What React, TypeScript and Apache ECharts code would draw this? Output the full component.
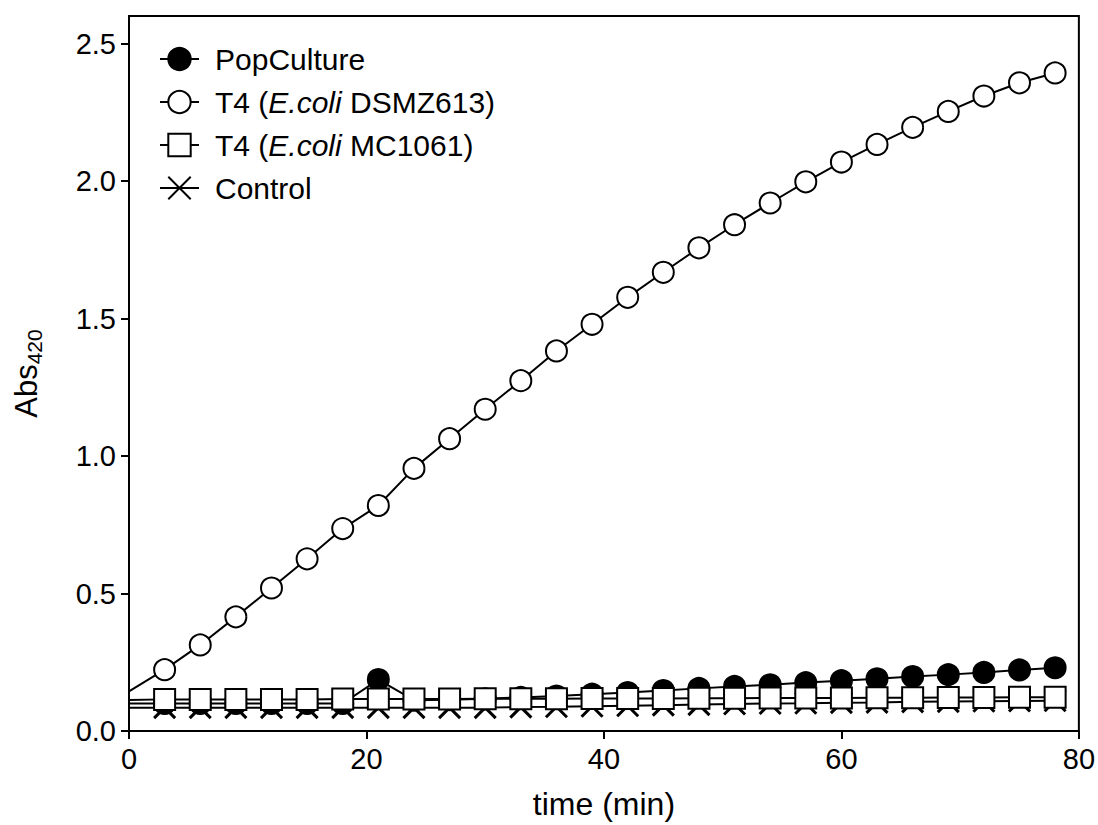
import React, { useEffect, useRef } from "react";
import * as echarts from "echarts";

const times = [0, 3, 6, 9, 12, 15, 18, 21, 24, 27, 30, 33, 36, 39, 42, 45, 48, 51, 54, 57, 60, 63, 66, 69, 72, 75, 78];
const popCulture = [0.1, 0.1, 0.1, 0.1, 0.1, 0.1, 0.1, 0.187, 0.112, 0.114, 0.117, 0.122, 0.127, 0.134, 0.14, 0.147, 0.155, 0.162, 0.168, 0.176, 0.183, 0.19, 0.198, 0.205, 0.213, 0.222, 0.23];
const t4Dsmz613 = [0.144, 0.223, 0.313, 0.415, 0.52, 0.626, 0.736, 0.82, 0.955, 1.063, 1.17, 1.274, 1.382, 1.479, 1.577, 1.668, 1.757, 1.841, 1.92, 1.997, 2.069, 2.133, 2.195, 2.253, 2.309, 2.357, 2.393];
const t4Mc1061 = [0.113, 0.115, 0.115, 0.115, 0.115, 0.115, 0.116, 0.116, 0.116, 0.116, 0.117, 0.117, 0.117, 0.118, 0.118, 0.118, 0.119, 0.119, 0.12, 0.12, 0.12, 0.121, 0.121, 0.122, 0.122, 0.123, 0.123];
const control = [0.085, 0.085, 0.085, 0.085, 0.085, 0.085, 0.085, 0.085, 0.085, 0.085, 0.085, 0.087, 0.088, 0.09, 0.092, 0.094, 0.096, 0.098, 0.1, 0.101, 0.103, 0.104, 0.106, 0.107, 0.108, 0.109, 0.11];

const xTicks = [0, 20, 40, 60, 80];
const yTicks = [0, 0.5, 1.0, 1.5, 2.0, 2.5];

const seriesNames = ["PopCulture", "T4 (E.coli DSMZ613)", "T4 (E.coli MC1061)", "Control"];

const FONT = "'Liberation Sans', Arial, Helvetica, sans-serif";

function toData(values: number[]) {
  return times.map((t, i) =>
    t === 0 ? { value: [t, values[i]], symbol: "none" } : [t, values[i]]
  );
}

export default function App() {
  const ref = useRef<HTMLDivElement>(null);
  useEffect(() => {
    if (!ref.current) return;
    const chart = echarts.init(ref.current, undefined, { renderer: "svg" });
    const lineStyle = { color: "#000", width: 2 };
    const common = {
      type: "line" as const,
      symbolSize: 21,
      lineStyle,
      showAllSymbol: true,
      clip: true,
    };
    chart.setOption({
      animation: false,
      backgroundColor: "#fff",
      grid: {
        left: 129,
        right: 19,
        top: 16,
        bottom: 88,
        show: true,
        borderColor: "#000",
        borderWidth: 2,
        backgroundColor: "transparent",
      },
      legend: {
        data: seriesNames,
        orient: "vertical",
        left: 154,
        top: 39,
        itemWidth: 39,
        itemHeight: 28,
        itemGap: 13,
        formatter: (name: string) =>
          name.indexOf("E.coli") >= 0
            ? "{n|" + name.replace("E.coli", "}{i|E.coli}{n|") + "}"
            : "{n|" + name + "}",
        textStyle: {
          padding: [0, 0, 0, 11],
          rich: {
            n: { fontSize: 30, fontFamily: FONT, color: "#000" },
            i: { fontSize: 30, fontFamily: FONT, color: "#000", fontStyle: "italic" },
          },
        },
      },
      xAxis: {
        type: "value",
        min: 0,
        max: 80,
        interval: 20,
        name: "time (min)",
        nameLocation: "middle",
        nameGap: 57,
        nameTextStyle: { fontSize: 32, fontFamily: FONT, color: "#000" },
        axisLine: { show: true, lineStyle: { color: "#000", width: 2 } },
        axisTick: { show: true, length: 8, lineStyle: { color: "#000", width: 2 }, customValues: xTicks },
        axisLabel: { fontSize: 29, fontFamily: FONT, color: "#000", margin: 13, customValues: xTicks },
        splitLine: { show: false },
      },
      yAxis: {
        type: "value",
        min: 0,
        max: 2.6,
        interval: 0.5,
        name: "{a|Abs}{b|420}",
        nameLocation: "middle",
        nameGap: 84,
        nameRotate: 90,
        nameTextStyle: {
          rich: {
            a: { fontSize: 31, fontFamily: FONT, color: "#000" },
            b: { fontSize: 21, fontFamily: FONT, color: "#000", padding: [16, 0, 0, 0] },
          },
        },
        axisLine: { show: true, lineStyle: { color: "#000", width: 2 } },
        axisTick: { show: true, length: 8, lineStyle: { color: "#000", width: 2 }, customValues: yTicks },
        axisLabel: {
          fontSize: 29,
          fontFamily: FONT,
          color: "#000",
          margin: 13,
          customValues: yTicks,
          formatter: (v: number) => v.toFixed(1),
        },
        splitLine: { show: false },
      },
      series: [
        {
          ...common,
          name: "Control",
          symbol: "path://M0,0L10,10M10,0L0,10",
          itemStyle: { color: "#000", borderColor: "#000", borderWidth: 3 },
          data: toData(control),
        },
        {
          ...common,
          name: "PopCulture",
          symbol: "circle",
          itemStyle: { color: "#000", borderColor: "#000", borderWidth: 2 },
          data: toData(popCulture),
        },
        {
          ...common,
          name: "T4 (E.coli DSMZ613)",
          symbol: "circle",
          itemStyle: { color: "#fff", borderColor: "#000", borderWidth: 2 },
          data: toData(t4Dsmz613),
        },
        {
          ...common,
          name: "T4 (E.coli MC1061)",
          symbol: "rect",
          itemStyle: { color: "#fff", borderColor: "#000", borderWidth: 2 },
          data: toData(t4Mc1061),
        },
      ],
    });
    return () => chart.dispose();
  }, []);
  return (
    <div
      ref={ref}
      style={{ position: "absolute", left: 0, top: 0, width: 1098, height: 825, background: "#fff" }}
    />
  );
}
